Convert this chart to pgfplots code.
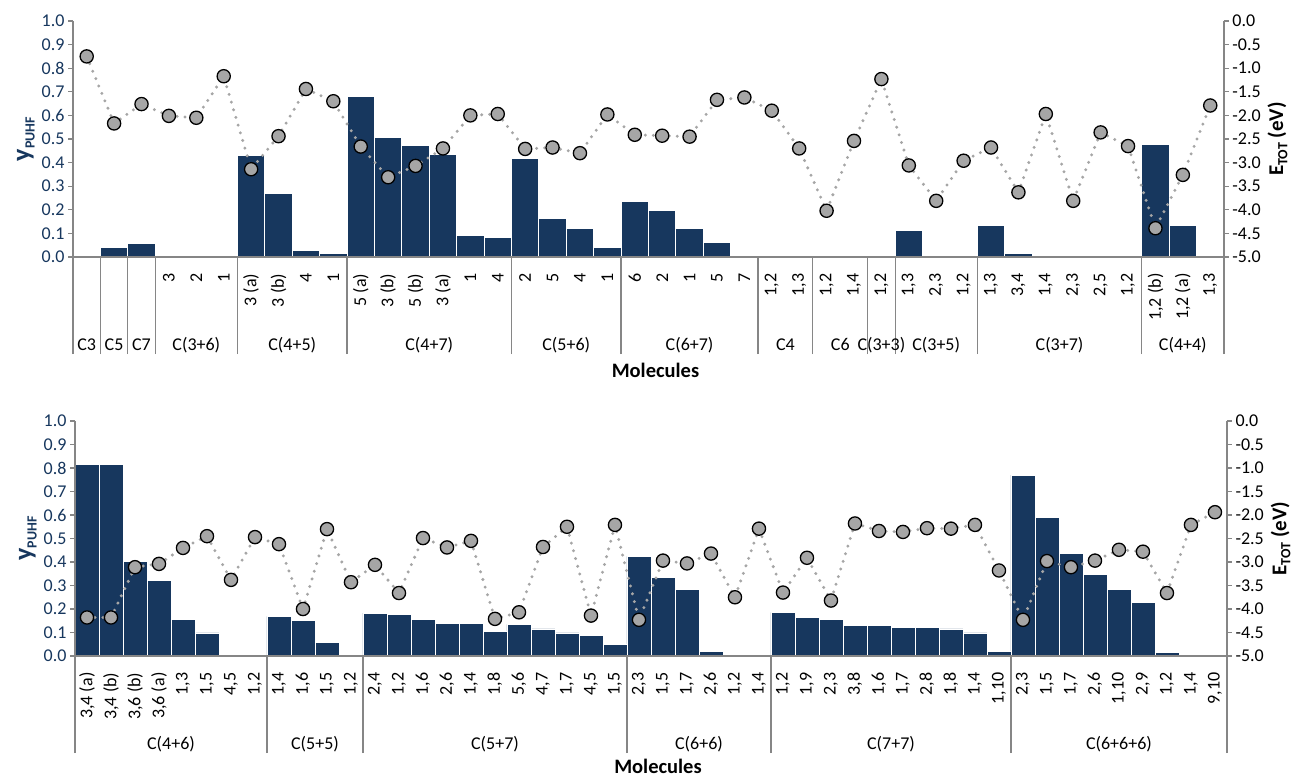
\documentclass[border=0pt]{standalone}
\usepackage{pgfplots}
\usepackage{pgfplotstable}
\pgfplotsset{compat=1.18}
\usepackage{fontspec}
\setmainfont{Carlito}
\definecolor{navy}{RGB}{23,55,94}
\definecolor{mk}{RGB}{166,166,166}
\definecolor{axg}{RGB}{134,134,134}
\newcommand{\sub}[1]{\raisebox{-0.2em}{\fontsize{14}{14}\selectfont #1}}

% ---------- top chart data ----------
\pgfplotstableread{
x y
1 0.039
2 0.058
6 0.431
7 0.270
8 0.027
9 0.016
10 0.679
11 0.508
12 0.472
13 0.436
14 0.093
15 0.082
16 0.418
17 0.164
18 0.119
19 0.039
20 0.234
21 0.199
22 0.119
23 0.062
30 0.111
33 0.133
34 0.014
39 0.477
40 0.133
}\topbars
\pgfplotstableread{
x e
0 -0.75
1 -2.17
2 -1.76
3 -2.01
4 -2.05
5 -1.17
6 -3.14
7 -2.44
8 -1.44
9 -1.70
10 -2.66
11 -3.31
12 -3.07
13 -2.70
14 -2.00
15 -1.97
16 -2.71
17 -2.68
18 -2.80
19 -1.98
20 -2.41
21 -2.43
22 -2.45
23 -1.67
24 -1.62
25 -1.90
26 -2.70
27 -4.02
28 -2.54
29 -1.23
30 -3.06
31 -3.81
32 -2.96
33 -2.68
34 -3.63
35 -1.97
36 -3.81
37 -2.36
38 -2.65
39 -4.39
40 -3.26
41 -1.79
}\topline
% ---------- bottom chart data ----------
\pgfplotstableread{
x y
0 0.817
1 0.817
2 0.401
3 0.323
4 0.156
5 0.098
8 0.169
9 0.152
10 0.057
12 0.182
13 0.176
14 0.156
15 0.139
16 0.139
17 0.104
18 0.135
19 0.115
20 0.098
21 0.086
22 0.051
23 0.424
24 0.335
25 0.282
26 0.018
29 0.186
30 0.163
31 0.156
32 0.128
33 0.128
34 0.122
35 0.122
36 0.115
37 0.098
38 0.020
39 0.770
40 0.590
41 0.437
42 0.348
43 0.282
44 0.228
45 0.014
}\botbars
\pgfplotstableread{
x e
0 -4.18
1 -4.18
2 -3.11
3 -3.04
4 -2.70
5 -2.45
6 -3.38
7 -2.47
8 -2.62
9 -4.00
10 -2.30
11 -3.43
12 -3.06
13 -3.66
14 -2.49
15 -2.69
16 -2.55
17 -4.21
18 -4.07
19 -2.68
20 -2.25
21 -4.14
22 -2.21
23 -4.23
24 -2.97
25 -3.03
26 -2.82
27 -3.75
28 -2.29
29 -3.65
30 -2.91
31 -3.82
32 -2.18
33 -2.34
34 -2.36
35 -2.28
36 -2.29
37 -2.21
38 -3.18
39 -4.23
40 -2.98
41 -3.11
42 -2.97
43 -2.74
44 -2.78
45 -3.66
46 -2.21
47 -1.94
}\botline

\pgfplotsset{
  common/.style={
    scale only axis,
    /pgf/number format/assume math mode=true,
    tick align=outside,
    major tick length=5pt,
    axis line style={axg, line width=1.1pt},
    ytick style={axg, line width=1.1pt},
    xtick style={draw=none},
    clip=false,
  },
  barax/.style={
    common,
    axis on top,
    axis x line*=bottom, axis y line*=left,
    ymin=0, ymax=1, ytick distance=0.1,
    yticklabel style={navy, font=\fontsize{18}{20}\selectfont,
      /pgf/number format/.cd, fixed, fixed zerofill, precision=1},
    ylabel={\textbf{y\sub{PUHF}}},
    ylabel style={navy, font=\bfseries\fontsize{26}{26}\selectfont},
    xticklabel style={yshift=-8pt, rotate=90, anchor=east, font=\fontsize{18}{20}\selectfont},
    extra x tick labels={},
    extra x tick style={xtick style={draw=axg, line width=1.2pt},
      major tick length=97pt, tick align=outside},
  },
  lineax/.style={
    common,
    axis x line*=bottom, axis y line*=right,
    x axis line style={draw=none},
    ymin=-5, ymax=0, ytick distance=0.5,
    yticklabel style={black, font=\fontsize{18}{20}\selectfont,
      /pgf/number format/.cd, fixed, fixed zerofill, precision=1},
    ylabel={\textbf{E\sub{TOT} (eV)}},
    ylabel style={black, font=\bfseries\fontsize{21}{24}\selectfont},
    xticklabel style={anchor=base, yshift=-88pt, font=\fontsize{18}{20}\selectfont},
    xlabel={Molecules},
    xlabel style={at={(axis description cs:0.5,0)}, anchor=base, yshift=-120.5pt, xshift=7pt,
      font=\bfseries\fontsize{20.5}{22}\selectfont},
  },
  bars/.style={ybar, bar width=1, bar shift=0pt, fill=navy, draw=white, line width=0.9pt},
  dots/.style={mk, line width=3.3pt, dash pattern=on 0pt off 8pt, line cap=round,
    mark=*, mark size=6.6pt, mark options={solid, fill=mk, draw=black, line width=1.3pt}},
}

\begin{document}
\begin{tikzpicture}
\useasboundingbox (0pt,0pt) rectangle (1301pt,-777pt);
% ================= TOP =================
\begin{axis}[barax, at={(73pt,-257pt)}, anchor=south west, width=1151pt, height=236pt,
  xmin=-0.5, xmax=41.5,
  xtick={0,...,41},
  xticklabels={{},{},{},3,2,1,{3 (a)},{3 (b)},4,1,{5 (a)},{3 (b)},{5 (b)},{3 (a)},1,4,2,5,4,1,6,2,1,5,7,{1,2},{1,3},{1,2},{1,4},{1,2},{1,3},{2,3},{1,2},{1,3},{3,4},{1,4},{2,3},{2,5},{1,2},{1,2 (b)},{1,2 (a)},{1,3}},
  extra x ticks={-0.5,0.5,1.5,2.5,5.5,9.5,15.5,19.5,24.5,26.5,28.5,29.5,32.5,38.5,41.5},
]
\addplot[bars] table[x=x,y=y] {\topbars};
\end{axis}
\begin{axis}[lineax, at={(73pt,-257pt)}, anchor=south west, width=1151pt, height=236pt,
  xmin=-0.5, xmax=41.5,
  xtick={0,1,2,4,7.5,12.5,17.5,22,25.5,27.5,29,31,35.5,40},
  xticklabels={C3,C5,C7,C(3+6),C(4+5),C(4+7),C(5+6),C(6+7),C4,C6,C(3+3),C(3+5),C(3+7),C(4+4)},
]
\addplot[dots] table[x=x,y=e] {\topline};
\end{axis}
% ================= BOTTOM =================
\begin{axis}[barax, at={(75pt,-656pt)}, anchor=south west, width=1152pt, height=235pt,
  xmin=-0.5, xmax=47.5,
  xtick={0,...,47},
  xticklabels={{3,4 (a)},{3,4 (b)},{3,6 (b)},{3,6 (a)},{1,3},{1,5},{4,5},{1,2},{1,4},{1,6},{1,5},{1,2},{2,4},{1,2},{1,6},{2,6},{1,4},{1,8},{5,6},{4,7},{1,7},{4,5},{1,5},{2,3},{1,5},{1,7},{2,6},{1,2},{1,4},{1,2},{1,9},{2,3},{3,8},{1,6},{1,7},{2,8},{1,8},{1,4},{1,10},{2,3},{1,5},{1,7},{2,6},{1,10},{2,9},{1,2},{1,4},{9,10}},
  extra x ticks={-0.5,7.5,11.5,22.5,28.5,38.5,47.5},
]
\addplot[bars] table[x=x,y=y] {\botbars};
\end{axis}
\begin{axis}[lineax, at={(75pt,-656pt)}, anchor=south west, width=1152pt, height=235pt,
  xmin=-0.5, xmax=47.5,
  xtick={3.5,9.5,17,25.5,33.5,43},
  xticklabels={C(4+6),C(5+5),C(5+7),C(6+6),C(7+7),C(6+6+6)},
  xlabel style={yshift=3pt},
]
\addplot[dots] table[x=x,y=e] {\botline};
\end{axis}
\end{tikzpicture}
\end{document}
